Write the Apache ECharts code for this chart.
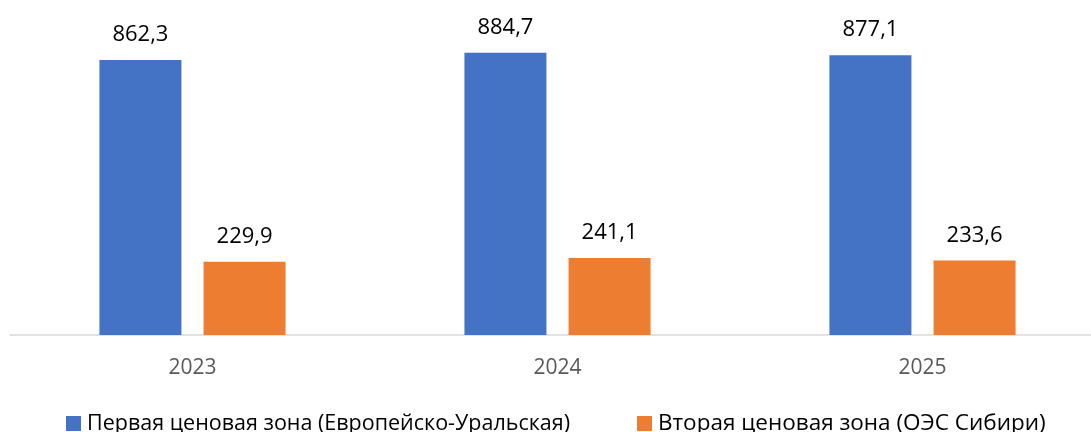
<!DOCTYPE html>
<html>
<head>
<meta charset="utf-8">
<script src="https://cdn.jsdelivr.net/npm/echarts@6/dist/echarts.min.js"></script>
<style>
html,body{margin:0;padding:0;background:#fff;}
#chart{width:1091px;height:432px;}
</style>
</head>
<body>
<div id="chart"></div>
<script>
const categories = ['2023', '2024', '2025'];
const seriesNames = ['Первая ценовая зона (Европейско-Уральская)', 'Вторая ценовая зона (ОЭС Сибири)'];
const firstZone = [862.3, 884.7, 877.1];
const secondZone = [229.9, 241.1, 233.6];

const FONT = '"Open Sans", "Liberation Sans", Arial, sans-serif';
const chart = echarts.init(document.getElementById('chart'), null, {renderer: 'canvas'});
const labelFmt = p => String(p.value.toFixed(1)).replace('.', ',');
chart.setOption({
  animation: false,
  backgroundColor: '#ffffff',
  textStyle: {fontFamily: FONT},
  grid: {left: 10, width: 1095, top: 16, bottom: 97, containLabel: false, outerBoundsMode: 'none'},
  legend: {
    left: 66, top: 412, padding: 0,
    itemWidth: 15, itemHeight: 15, itemGap: 67,
    icon: 'rect',
    textStyle: {fontFamily: FONT, fontSize: 21.5, color: '#000000', padding: [0, 0, 0, 1]},
    data: [
      {name: seriesNames[0]},
      {name: seriesNames[1], textStyle: {fontSize: 22.5}}
    ]
  },
  xAxis: {
    type: 'category',
    data: categories,
    axisLine: {show: true, lineStyle: {color: '#d9d9d9', width: 1.5}},
    axisTick: {show: false},
    axisLabel: {fontFamily: FONT, fontSize: 21, color: '#595959', margin: 23}
  },
  yAxis: {
    type: 'value', min: 0, max: 1000,
    show: false,
    splitLine: {show: false}
  },
  series: [
    {
      name: seriesNames[0], type: 'bar', data: firstZone,
      barWidth: 82, barGap: '27%',
      itemStyle: {color: '#4472c4'},
      label: {show: true, position: 'top', distance: 14, formatter: labelFmt,
              fontFamily: FONT, fontSize: 22, color: '#000000'}
    },
    {
      name: seriesNames[1], type: 'bar', data: secondZone,
      barWidth: 82, barGap: '27%',
      itemStyle: {color: '#ed7d31'},
      label: {show: true, position: 'top', distance: 14, formatter: labelFmt,
              fontFamily: FONT, fontSize: 22, color: '#000000'}
    }
  ]
});
</script>
</body>
</html>
